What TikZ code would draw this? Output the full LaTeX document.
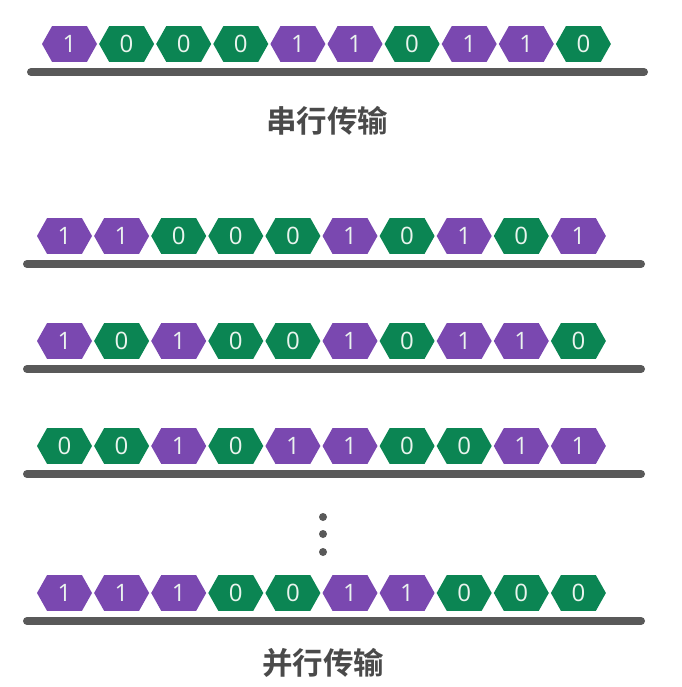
\documentclass[tikz,border=0pt]{standalone}
\usepackage{fontspec}
\newfontfamily\digitfont{Open Sans}
\newfontfamily\cjk{Noto Sans CJK SC}[BoldFont={Noto Sans CJK SC Bold}]
\definecolor{bitpurple}{HTML}{7A48B0}
\definecolor{bitgreen}{HTML}{0B8553}
\definecolor{bittext}{HTML}{EAF4EE}
\definecolor{wire}{HTML}{595959}
\definecolor{labelgray}{HTML}{4A4A4A}
\tikzset{
  wireline/.style={line width=8pt, line cap=round, draw=wire},
  bitlabel/.style={text=bittext, font=\digitfont\fontsize{24}{24}\selectfont, inner sep=0pt},
  titlelabel/.style={text=labelgray, font=\cjk\bfseries\fontsize{30.5}{30.5}\selectfont, inner sep=0pt},
  dotmark/.style={fill=wire, draw=none}
}
% #1 x-start, #2 y-center, #3 row name, #4 bits
\newcommand{\bitrow}[4]{%
  \foreach \b [count=\i] in {#4} {
    \pgfmathsetmacro{\cx}{#1+27.5+(\i-1)*57.1}
    \ifnum\b=1 \def\hexcol{bitpurple}\else \def\hexcol{bitgreen}\fi
    \fill[\hexcol] (\cx-27.5,#2) -- (\cx-17.5,#2-17.8) -- (\cx+17.5,#2-17.8)
      -- (\cx+27.5,#2) -- (\cx+17.5,#2+17.8) -- (\cx-17.5,#2+17.8) -- cycle;
    \node[bitlabel] (#3-\i) at (\cx,#2) {\b};
  }%
}
\begin{document}
\begin{tikzpicture}[x=1pt,y=-1pt]
\useasboundingbox[fill=white] (0,0) rectangle (681,687);
% serial
\bitrow{42}{44}{s}{1,0,0,0,1,1,0,1,1,0}
\coordinate (s-a) at (31,72); \coordinate (s-b) at (644,72);
\draw[wireline] (s-a) -- (s-b);
\node[titlelabel] (serial) at (327,121) {串行传输};
% parallel
\bitrow{37}{236}{p1}{1,1,0,0,0,1,0,1,0,1}
\coordinate (p1-a) at (27,264); \coordinate (p1-b) at (641,264);
\draw[wireline] (p1-a) -- (p1-b);
\bitrow{37}{341}{p2}{1,0,1,0,0,1,0,1,1,0}
\coordinate (p2-a) at (27,369); \coordinate (p2-b) at (641,369);
\draw[wireline] (p2-a) -- (p2-b);
\bitrow{37}{446}{p3}{0,0,1,0,1,1,0,0,1,1}
\coordinate (p3-a) at (27,474); \coordinate (p3-b) at (641,474);
\draw[wireline] (p3-a) -- (p3-b);
\node[dotmark, circle, minimum size=8pt, inner sep=0pt] (d1) at (323,517) {};
\node[dotmark, circle, minimum size=8pt, inner sep=0pt] (d2) at (323,534) {};
\node[dotmark, circle, minimum size=8pt, inner sep=0pt] (d3) at (323,552) {};
\bitrow{37}{593}{p4}{1,1,1,0,0,1,1,0,0,0}
\coordinate (p4-a) at (27,621); \coordinate (p4-b) at (641,621);
\draw[wireline] (p4-a) -- (p4-b);
\node[titlelabel] (parallel) at (323,663) {并行传输};
\end{tikzpicture}
\end{document}
